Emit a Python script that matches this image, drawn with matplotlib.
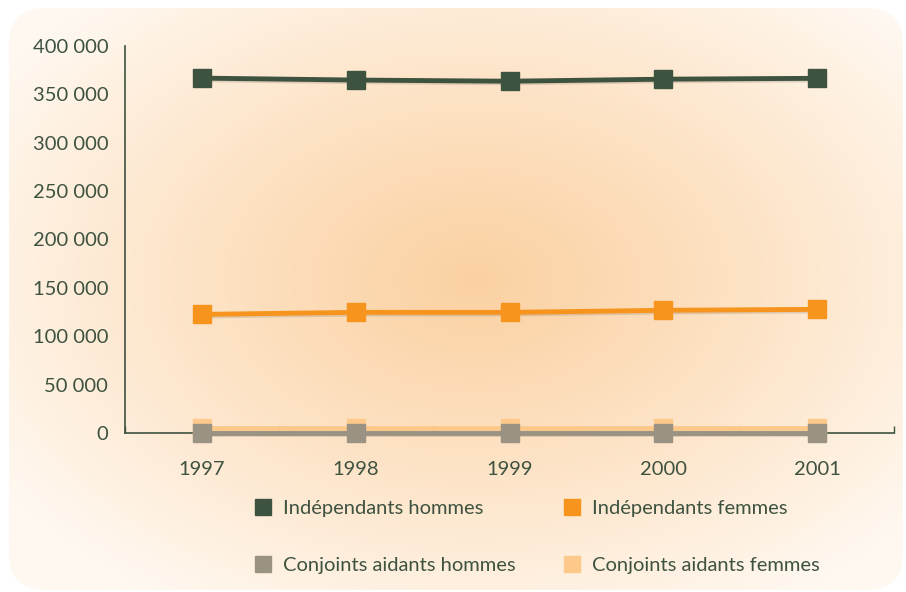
import numpy as np
import matplotlib
matplotlib.use("Agg")
import matplotlib.pyplot as plt
from matplotlib.patches import FancyBboxPatch
from matplotlib.lines import Line2D
import matplotlib.patheffects as pe
from matplotlib.ticker import FuncFormatter, FixedLocator

years = ["1997", "1998", "1999", "2000", "2001"]
indep_hommes = [366800, 364800, 363600, 365700, 366600]
indep_femmes = [122600, 124700, 124700, 126800, 127800]
conj_hommes = [500, 500, 500, 500, 500]
conj_femmes = [5500, 5500, 5500, 5500, 5500]
series_names = ["Indépendants hommes", "Indépendants femmes",
                "Conjoints aidants hommes", "Conjoints aidants femmes"]
yticks = [0, 50000, 100000, 150000, 200000, 250000, 300000, 350000, 400000]

C_DARK = "#3e5240"
C_ORANGE = "#f7941d"
C_GRAY = "#9a9282"
C_LIGHT = "#fdc98b"
TXT = "#3e5240"

plt.rcParams['font.family'] = ['Lato', 'DejaVu Sans']

W, H = 906, 592
fig = plt.figure(figsize=(W/100, H/100), dpi=100)

# background gradient
bg = fig.add_axes([0, 0, 1, 1], zorder=-10)
bg.set_xlim(0, W); bg.set_ylim(H, 0); bg.axis('off')
xx, yy = np.meshgrid(np.linspace(0, W, 400), np.linspace(0, H, 300))
cx, cy = 475, 280
r = np.sqrt(((xx - cx) / 560) ** 2 + ((yy - cy) / 380) ** 2)
t = np.clip(r, 0, 1) ** 1.1
c_in = np.array([0xfb, 0xd1, 0xa2]) / 255
c_out = np.array([0xff, 0xf8, 0xf0]) / 255
img = c_in[None, None, :] * (1 - t[..., None]) + c_out[None, None, :] * t[..., None]
im = bg.imshow(img, extent=(0, W, H, 0), aspect='auto', interpolation='bilinear')
patch = FancyBboxPatch((9, 8), W - 12, H - 10, boxstyle="round,pad=0,rounding_size=36",
                       transform=bg.transData, facecolor='none', edgecolor='none')
bg.add_patch(patch)
im.set_clip_path(patch)

ax = fig.add_axes([125/W, 1 - 433/H, (894 - 125)/W, (433 - 46)/H])
ax.patch.set_alpha(0)
x = np.arange(len(years))

shadow = [pe.SimpleLineShadow(offset=(0, -1.2), shadow_color='#8a7a66', alpha=0.25), pe.Normal()]
for vals, col, z in [(conj_femmes, C_LIGHT, 3), (conj_hommes, C_GRAY, 4),
                     (indep_femmes, C_ORANGE, 5), (indep_hommes, C_DARK, 6)]:
    ax.plot(x, vals, color=col, lw=3.5, zorder=z, path_effects=shadow, clip_on=False)
    ax.plot(x, vals, color=col, ls='none', marker='s', ms=12.5, zorder=z + 0.5, clip_on=False)

ax.set_xlim(-0.5, 4.5)
ax.set_ylim(0, 400000)
ax.set_yticks(yticks)
ax.yaxis.set_major_formatter(FuncFormatter(lambda v, p: f"{int(v):,}".replace(",", " ")))
ax.set_xticks(x)
ax.set_xticklabels(years)
ax.xaxis.set_minor_locator(FixedLocator(np.arange(-0.5, 5, 1)))
ax.tick_params(axis='x', which='major', length=0, pad=20, labelsize=14.5, labelcolor=TXT)
ax.tick_params(axis='x', which='minor', length=5, direction='in', color=C_DARK, width=1)
ax.tick_params(axis='y', length=0, pad=12, labelsize=14.5, labelcolor=TXT)
for s in ['top', 'right']:
    ax.spines[s].set_visible(False)
for s in ['left', 'bottom']:
    ax.spines[s].set_color(C_DARK)
    ax.spines[s].set_linewidth(1.2)
ax.spines['left'].set_bounds(0, 400000)

order = [0, 2, 1, 3]
cols = [C_DARK, C_ORANGE, C_GRAY, C_LIGHT]
handles = [Line2D([], [], ls='none', marker='s', ms=12, color=cols[i]) for i in order]
labels = [series_names[i] for i in order]
leg = fig.legend(handles, labels, ncol=2, loc='center', bbox_to_anchor=(537/W, 1 - 537/H),
                 frameon=False, fontsize=14.5, labelcolor=TXT, handlelength=0.8, handletextpad=0.6,
                 labelspacing=2.0, columnspacing=2.4)

fig.savefig("out.png", dpi=100)
